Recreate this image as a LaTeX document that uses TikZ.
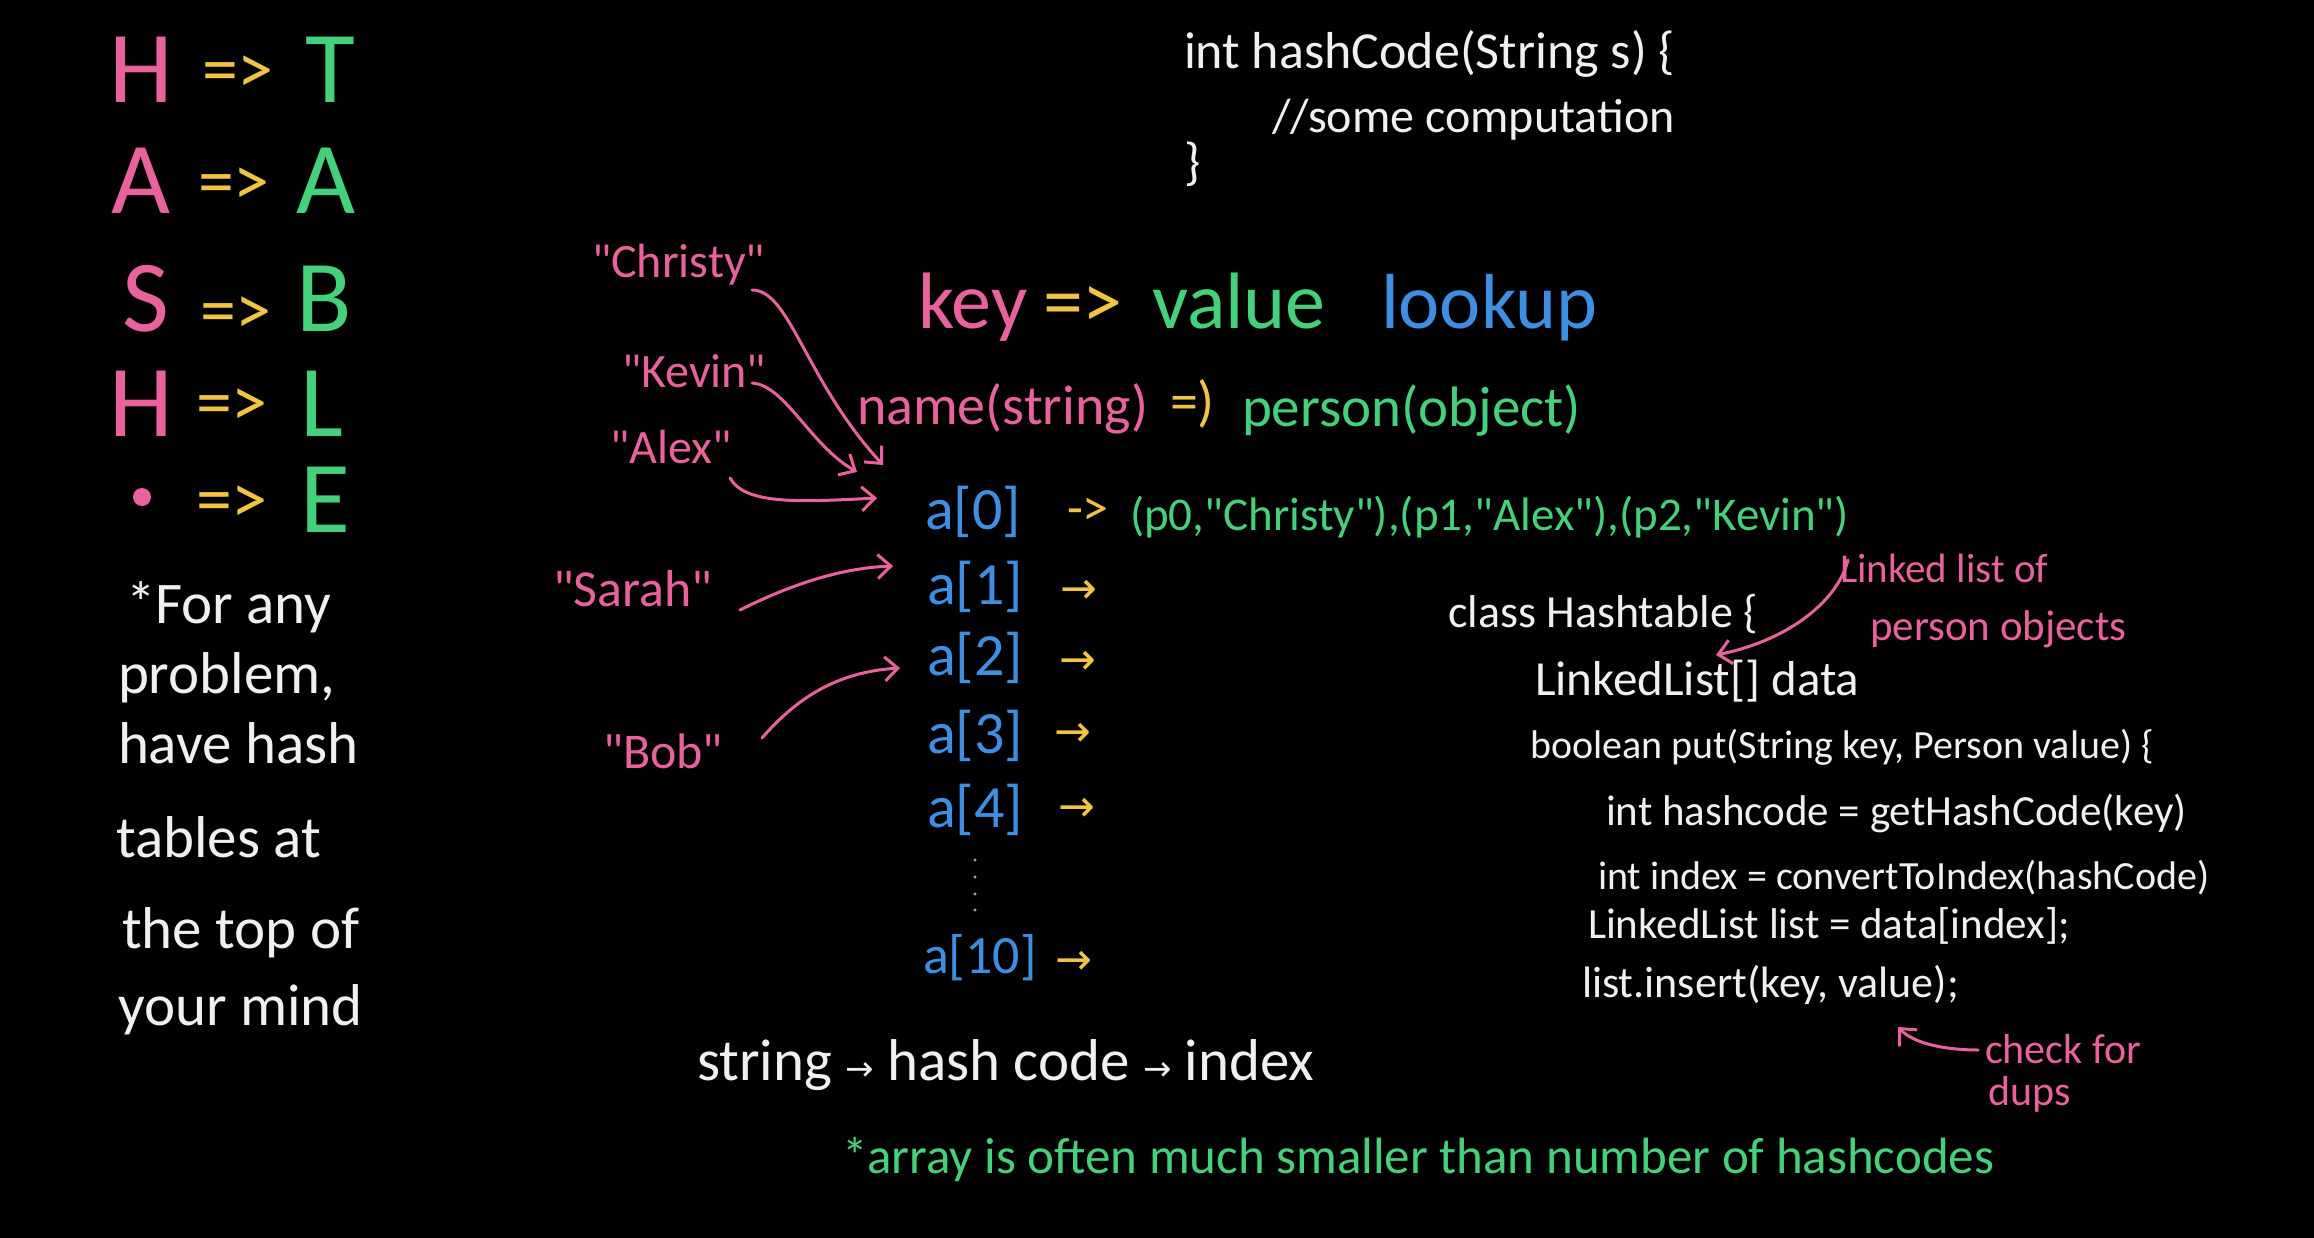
\documentclass[tikz,border=0pt]{standalone}
\usepackage{fontspec}
\setmainfont{Carlito}[Ligatures=TeXOff]
\newfontfamily\arrowfont{DejaVu Sans}
\usetikzlibrary{arrows.meta,calc}
\definecolor{hpink}{HTML}{E8639E}
\definecolor{hyellow}{HTML}{F2C443}
\definecolor{hgreen}{HTML}{45D17C}
\definecolor{hblue}{HTML}{3E8EE2}
\definecolor{hwhite}{HTML}{F0F0F0}
\newcommand\fs[1]{\fontsize{#1}{#1}\selectfont}
\begin{document}
\begin{tikzpicture}[x=1pt,y=-1pt,
  txt/.style={inner sep=0pt, outer sep=0pt, anchor=base west},
  big/.style={inner sep=0pt, outer sep=0pt, anchor=center, font=\fs{102}},
  impl/.style={inner sep=0pt, outer sep=0pt, anchor=center, font=\fs{72}, text=hyellow},
  slot/.style={inner sep=0pt, outer sep=0pt, anchor=west, font=\fs{60}, text=hblue},
  yarrow/.style={inner sep=0pt, outer sep=0pt, anchor=center, font=\arrowfont\fs{44}, text=hyellow},
  keytxt/.style={txt, font=\fs{48}, text=hpink},
  code/.style={txt, font=\fs{42}, text=hwhite},
  note/.style={txt, font=\fs{59}, text=hwhite},
  pinkarrow/.style={draw=hpink, line width=3pt, line cap=round, line join=round,
    -{Straight Barb[length=13pt,width=24pt]}},
]
\fill[black] (0,0) rectangle (2314,1238);
\useasboundingbox (0,0) rectangle (2314,1238);

% ---- HASH => TABLE ----
\node[big, text=hpink]  (l1) at (141,70)  {H};
\node[impl]             (i1) at (238,75)  {=>};
\node[big, text=hgreen] (r1) at (330,70)  {T};
\node[big, text=hpink]  (l2) at (141,181) {A};
\node[impl]             (i2) at (234,187) {=>};
\node[big, text=hgreen] (r2) at (326,181) {A};
\node[big, text=hpink]  (l3) at (146,299) {S};
\node[impl]             (i3) at (236,316) {=>};
\node[big, text=hgreen] (r3) at (324,299) {B};
\node[big, text=hpink]  (l4) at (141,404) {H};
\node[impl]             (i4) at (232,408) {=>};
\node[big, text=hgreen] (r4) at (322,404) {L};
\node[circle, fill=hpink, inner sep=0pt, minimum size=18pt] (l5) at (142,497) {};
\node[impl]             (i5) at (232,505) {=>};
\node[big, text=hgreen] (r5) at (325,500) {E};

% ---- left note ----
\node[note] (n1) at (126,623)  {*For any};
\node[note] (n2) at (118,693)  {problem,};
\node[note] (n3) at (118,763)  {have hash};
\node[note] (n4) at (116,857)  {tables at};
\node[note] (n5) at (122,948)  {the top of};
\node[note] (n6) at (118,1025) {your mind};

% ---- hashCode ----
\node[txt, font=\fs{52}, text=hwhite] (hc1) at (1184,69)  {int hashCode(String s) \{};
\node[txt, font=\fs{48}, text=hwhite] (hc2) at (1272,133) {//some computation};
\node[txt, font=\fs{52}, text=hwhite] (hc3) at (1184,180) {\}};

% ---- key => value lookup ----
\node[txt, font=\fs{80}, text=hpink]   (kk) at (918,328)  {key};
\node[txt, font=\fs{80}, text=hyellow] (ki) at (1043,328) {=>};
\node[txt, font=\fs{80}, text=hgreen]  (kv) at (1152,328) {value};
\node[txt, font=\fs{78}, text=hblue]   (kl) at (1381,328) {lookup};

\node[txt, font=\fs{56}, text=hpink]   (nm) at (857,424)  {name(string)};
\node[txt, font=\fs{56}, text=hyellow] (ni) at (1170,420) {=)};
\node[txt, font=\fs{57}, text=hgreen]  (np) at (1242,426) {person(object)};

% ---- array slots ----
\node[slot] (a0)  at (925,512) {a[0]};
\node[slot] (a1)  at (927,587) {a[1]};
\node[slot] (a2)  at (927,658) {a[2]};
\node[slot] (a3)  at (927,736) {a[3]};
\node[slot] (a4)  at (927,810) {a[4]};
\node[slot, font=\fs{54}] (a10) at (923,958) {a[10]};

\node[txt, anchor=west, font=\fs{52}, text=hyellow] (y0) at (1067,512) {->};
\node[txt, font=\fs{47}, text=hgreen] (chain) at (1130,530) {(p0,"Christy"),(p1,"Alex"),(p2,"Kevin")};
\node[yarrow] (y1)  at (1079,592) {→};
\node[yarrow] (y2)  at (1078,663) {→};
\node[yarrow] (y3)  at (1073,735) {→};
\node[yarrow] (y4)  at (1077,810) {→};
\node[yarrow] (y10) at (1074,963) {→};

\foreach \yy in {860,877,894,910} \fill[gray!70] (975,\yy) circle (1.6pt);

% ---- keys ----
\node[keytxt] (christy) at (592,278) {"Christy"};
\node[keytxt] (kevin)   at (622,387) {"Kevin"};
\node[keytxt] (alex)    at (610,463) {"Alex"};
\node[keytxt, font=\fs{52}] (sarah) at (553,606) {"Sarah"};
\node[keytxt, font=\fs{50}] (bob)   at (603,768) {"Bob"};

\draw[pinkarrow] ($(christy.base west)+(160,12)$) .. controls (790,290) and (805,380) .. ($(a0.west)+(-42,-47)$);
\draw[pinkarrow] ($(kevin.base west)+(130,-4)$) .. controls (785,385) and (810,445) .. ($(a0.west)+(-68,-40)$);
\draw[pinkarrow] ($(alex.base west)+(120,15)$) .. controls (745,505) and (800,502) .. ($(a0.west)+(-48,-14)$);
\draw[pinkarrow] ($(sarah.base west)+(187,4)$) .. controls (790,585) and (840,568) .. ($(a1.west)+(-34,-21)$);
\draw[pinkarrow] ($(bob.base west)+(159,-30)$) .. controls (795,700) and (835,672) .. ($(a2.west)+(-27,10)$);

% ---- class Hashtable ----
\node[txt, font=\fs{46}, text=hwhite] (cls) at (1448,627) {class Hashtable \{};
\node[txt, font=\fs{49}, text=hwhite] (ll)  at (1535,695) {LinkedList[] data};
\node[txt, font=\fs{40}, text=hwhite] (put) at (1530,758) {boolean put(String key, Person value) \{};
\node[code, font=\fs{43}] (c1)  at (1606,825) {int hashcode = getHashCode(key)};
\node[code, font=\fs{40}] (c2)  at (1598,889) {int index = convertToIndex(hashCode)};
\node[code, font=\fs{43}] (c3)  at (1588,938) {LinkedList list = data[index];};
\node[code, font=\fs{44}] (ins) at (1582,997) {list.insert(key, value);};

\node[txt, font=\fs{41}, text=hpink] (lk1) at (1840,582) {Linked list of};
\node[txt, font=\fs{43}, text=hpink] (lk2) at (1870,640) {person objects};
\draw[pinkarrow] ($(lk1.base west)+(8,-22)$) .. controls (1838,600) and (1790,640) .. ($(ll.base west)+(181,-40)$);

\node[txt, font=\fs{42}, text=hpink] (chk1) at (1985,1063) {check for};
\node[txt, font=\fs{42}, text=hpink] (chk2) at (1988,1105) {dups};
\draw[pinkarrow] ($(chk1.base west)+(-7,-13)$) .. controls (1950,1050) and (1915,1045) .. ($(ins.base west)+(316,30)$);

% ---- bottom ----
\node[txt, font=\fs{59}, text=hwhite] (flow) at (697,1080) {string {\arrowfont\fs{34}→} hash code {\arrowfont\fs{34}→} index};
\node[txt, font=\fs{51}, text=hgreen] (small) at (842,1173) {*array is often much smaller than number of hashcodes};
\end{tikzpicture}
\end{document}
